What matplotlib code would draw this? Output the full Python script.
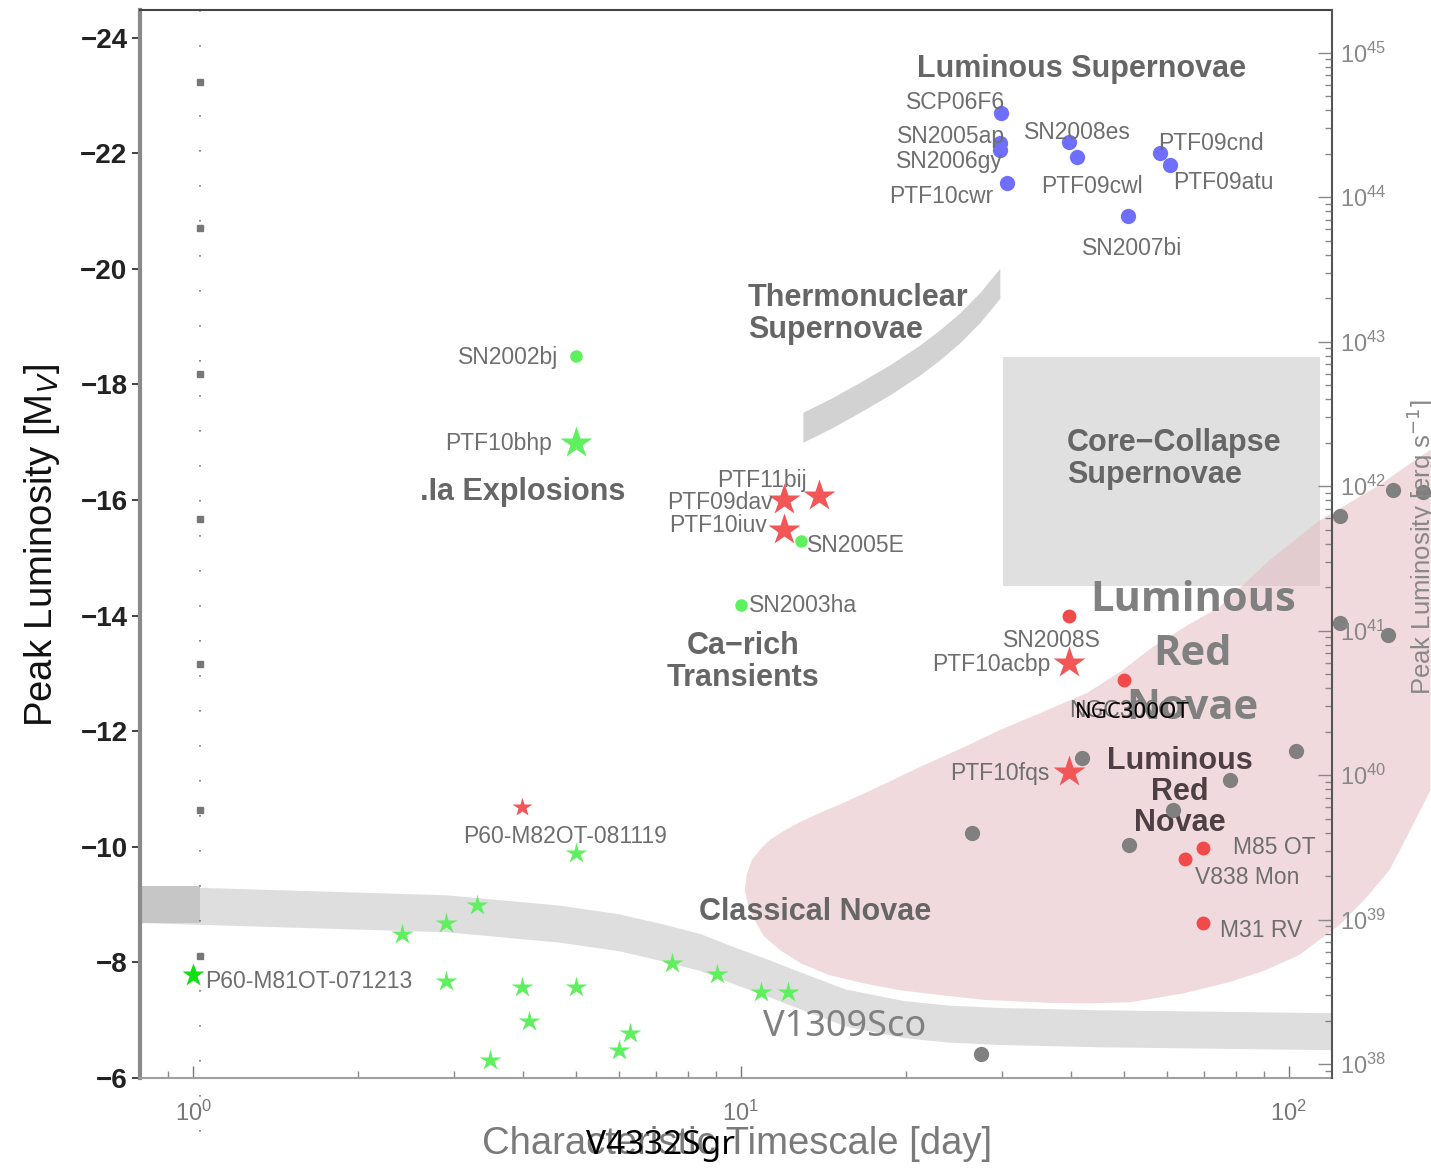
import os
import numpy as np
import matplotlib
matplotlib.use("Agg")
import matplotlib.pyplot as plt
import matplotlib.transforms as mtransforms
from matplotlib import font_manager
from matplotlib.patches import Polygon, Rectangle
from matplotlib.ticker import NullLocator, LogLocator

plt.rcParams['font.family'] = ['Liberation Sans', 'DejaVu Sans']


def bold_family(candidates):
    # first family with a static bold file (variable fonts render as regular)
    for fam in candidates:
        try:
            path = font_manager.findfont(
                font_manager.FontProperties(family=fam, weight='bold'),
                fallback_to_default=False)
        except ValueError:
            continue
        fname = os.path.basename(path).lower()
        if 'bold' in fname and '[' not in fname:
            return fam
    return 'DejaVu Sans'


NOTE_BOLD = bold_family(['Noto Sans', 'Open Sans', 'Roboto', 'Lato'])
NOTE_SIZE = 30 if NOTE_BOLD != 'DejaVu Sans' else 28

LUM_ZERO_MAG = -6.24  # M_V that maps to 1e38 erg/s on the right-hand scale

# luminous supernovae (blue)
sn_names = ['SCP06F6', 'SN2005ap', 'SN2006gy', 'PTF10cwr', 'SN2008es',
            'PTF09cwl', 'PTF09cnd', 'PTF09atu', 'SN2007bi']
sn_days = [29.8, 29.7, 29.7, 30.6, 39.8, 41.0, 58.2, 60.7, 50.8]
sn_mag = [-22.70, -22.18, -22.06, -21.48, -22.19, -21.93, -22.00, -21.80, -20.91]

# green dots (.Ia / Ca-rich)
gdot_names = ['SN2002bj', 'SN2005E', 'SN2003ha']
gdot_days = [5.0, 12.9, 10.0]
gdot_mag = [-18.49, -15.29, -14.18]

bigstar_name = 'PTF10bhp'
bigstar_days = [5.0]
bigstar_mag = [-16.99]

# classical novae (small green stars)
nova_days = [2.41, 2.90, 3.30, 2.90, 3.98, 5.0, 5.0, 4.10, 3.48, 5.99, 6.27,
             7.48, 9.04, 10.9, 12.2]
nova_mag = [-8.49, -8.68, -8.99, -7.68, -7.57, -7.57, -9.89, -6.99, -6.31,
            -6.48, -6.78, -7.99, -7.80, -7.49, -7.49]
m81_name = 'P60-M81OT-071213'
m81_days = [1.0]
m81_mag = [-7.78]

# red stars
rstar_names = ['PTF09dav', 'PTF11bij', 'PTF10iuv', 'PTF10acbp', 'PTF10fqs']
rstar_days = [12.0, 13.9, 12.0, 39.8, 39.8]
rstar_mag = [-16.00, -16.07, -15.48, -13.18, -11.29]
m82_name = 'P60-M82OT-081119'
m82_days = [3.98]
m82_mag = [-10.69]

# red dots
rdot_names = ['SN2008S', 'NGC300OT', 'M85 OT', 'V838 Mon', 'M31 RV']
rdot_days = [39.8, 50.0, 69.7, 64.6, 69.7]
rdot_mag = [-13.99, -12.89, -9.98, -9.79, -8.68]

# luminous red novae sample (grey)
lrn_days = [26.4, 27.4, 41.9, 51.1, 61.4, 78.0, 103, 124, 124, 152, 155, 176]
lrn_mag = [-10.24, -6.42, -11.54, -10.03, -10.64, -11.16, -11.66, -15.72,
           -13.87, -13.66, -16.17, -16.14]

# classical nova track
cn_days = [0.8, 2.90, 4.67, 6.0, 7.24, 8.42, 9.83, 11.3, 12.8, 15.5, 19.8,
           24.0, 29.7, 45.2, 120]
cn_mag = [-9.01, -8.85, -8.67, -8.52, -8.34, -8.18, -7.93, -7.72, -7.52, -7.22,
          -7.02, -6.94, -6.90, -6.86, -6.81]
cn_half = 0.32

# thermonuclear supernova track
tn_days = [12.98, 14.6, 16.5, 18.7, 21.2, 23.1, 25.1, 27.3, 29.7]
tn_mag = [-17.26, -17.50, -17.78, -18.08, -18.42, -18.69, -18.98, -19.33, -19.75]
tn_half = 0.26

# core-collapse box
cc_days = (30.1, 114.0)
cc_mag = (-18.47, -14.51)

# luminous red novae region outline
lrn_zone_days = [10.17, 10.25, 10.47, 10.85, 11.29, 12.0, 12.82, 14.2, 15.81,
                 18.3, 21.2, 25.2, 29.7, 35.5, 42.8, 49.5, 56.5, 65.0, 74.8,
                 83.0, 92.3, 103, 114, 130, 146.6, 163, 181.6, 181.6, 167,
                 152.9, 138, 123.9, 104.7, 90.5, 78.1, 64.0, 51.3, 43.0, 36.6,
                 28.0, 23.3, 19.5, 16.7, 14.5, 12.9, 11.8, 11.0, 10.6, 10.3]
lrn_zone_mag = [-9.25, -9.52, -9.77, -9.96, -10.12, -10.28, -10.43, -10.62,
                -10.81, -11.09, -11.38, -11.70, -12.02, -12.33, -12.66, -13.04,
                -13.46, -13.82, -14.15, -14.55, -14.96, -15.32, -15.65, -15.97,
                -16.26, -16.57, -16.87, -10.98, -10.30, -9.60, -9.10, -8.65,
                -8.13, -7.86, -7.66, -7.46, -7.31, -7.29, -7.30, -7.35, -7.43,
                -7.52, -7.64, -7.78, -7.98, -8.21, -8.46, -8.73, -9.00]

guide_days = 1.03
guide_mag = [-23.23, -20.71, -18.18, -15.67, -13.16, -10.64, -8.11]

# label offsets in pixels
offsets = {
    'SCP06F6': (4, 10, 'right'), 'SN2005ap': (5, 6, 'right'),
    'SN2006gy': (3, -12, 'right'), 'PTF10cwr': (-14, -13, 'right'),
    'SN2008es': (-45, 10, 'left'), 'PTF09cwl': (-35, -29, 'left'),
    'PTF09cnd': (-2, 10, 'left'), 'PTF09atu': (3, -18, 'left'),
    'SN2007bi': (5, -32, 'center'), 'SN2002bj': (-18, -1, 'right'),
    'PTF10bhp': (-24, -1, 'right'), 'PTF11bij': (-12, 16, 'right'),
    'PTF09dav': (-11, -2, 'right'), 'PTF10iuv': (-17, 5, 'right'),
    'SN2005E': (6, -4, 'left'), 'SN2003ha': (8, 0, 'left'),
    'SN2008S': (-18, -24, 'center'), 'PTF10acbp': (-19, -1, 'right'),
    'NGC300OT': (6, -31, 'center'), 'PTF10fqs': (-20, -1, 'right'),
    'P60-M82OT-081119': (43, -30, 'center'), 'P60-M81OT-071213': (12, -6, 'left'),
    'M85 OT': (30, 0, 'left'), 'V838 Mon': (10, -19, 'left'),
    'M31 RV': (17, -7, 'left'),
}

fig = plt.figure(figsize=(14.31, 11.68), dpi=100)
ax = fig.add_axes([140 / 1431, 90 / 1168, 1192 / 1431, 1068 / 1168])
ax.set_xscale('log')
ax.set_xlim(0.8, 120)
ax.set_ylim(-6, -24.48)

GROUP = '#666666'
LABEL = '#6e6e6e'

# shaded regions
cn_lo = np.array(cn_mag) - cn_half
cn_hi = np.array(cn_mag) + cn_half
ax.fill_between(cn_days, cn_lo, cn_hi, color='#dedede', lw=0, zorder=1)
ax.fill_between([cn_days[0], guide_days], [cn_lo[0]] * 2, [cn_hi[0]] * 2,
                color='#c6c6c6', lw=0, zorder=1)
ax.fill_between(tn_days, np.array(tn_mag) - tn_half, np.array(tn_mag) + tn_half,
                color='#d2d2d2', lw=0, zorder=1)
ax.add_patch(Rectangle((cc_days[0], cc_mag[0]), cc_days[1] - cc_days[0],
                       cc_mag[1] - cc_mag[0], facecolor='#e0e0e0', lw=0, zorder=1))
ax.add_patch(Polygon(np.column_stack([lrn_zone_days, lrn_zone_mag]), closed=True,
                     facecolor='#e6bcc4', alpha=0.55, edgecolor='none',
                     clip_on=False, zorder=2))

# dotted guide at 1 day
trans = mtransforms.blended_transform_factory(ax.transData, ax.transAxes)
ax.plot([guide_days, guide_days], [1.0, -0.08], transform=trans, color='#777777',
        lw=1.2, ls=(0, (1, 20)), clip_on=False, zorder=2)
ax.plot([guide_days] * len(guide_mag), guide_mag, 's', color='#777777', ms=4,
        zorder=3)

# markers
ax.plot(sn_days, sn_mag, 'o', color='#6f6fff', ms=11, mec='none', zorder=4)
ax.plot(gdot_days, gdot_mag, 'o', color='#5ef05e', ms=9, mec='none', zorder=4)
ax.plot(bigstar_days, bigstar_mag, '*', color='#5ef05e', ms=24, mec='none', zorder=4)
ax.plot(nova_days, nova_mag, '*', color='#5ef05e', ms=16, mec='none', zorder=4)
ax.plot(m81_days, m81_mag, '*', color='#10e010', ms=17, mec='none', zorder=4)
ax.plot(rstar_days, rstar_mag, '*', color='#f25656', ms=24, mec='none', zorder=4)
ax.plot(m82_days, m82_mag, '*', color='#f25656', ms=15, mec='none', zorder=4)
ax.plot(rdot_days, rdot_mag, 'o', color='#f24a4a', ms=10, mec='none', zorder=4)

# point labels
names = (sn_names + gdot_names + [bigstar_name] + [m81_name] + rstar_names
         + [m82_name] + rdot_names)
days = (sn_days + gdot_days + bigstar_days + m81_days + rstar_days + m82_days
        + rdot_days)
mags = sn_mag + gdot_mag + bigstar_mag + m81_mag + rstar_mag + m82_mag + rdot_mag
for name, d, m in zip(names, days, mags):
    dx, dy, ha = offsets[name]
    ax.annotate(name, (d, m), xytext=(dx, dy), textcoords='offset pixels',
                ha=ha, va='center', fontsize=16.5, color=LABEL, zorder=5)

# class labels
bold = dict(fontsize=22, fontweight='bold', color=GROUP, zorder=5)
ax.text(41.9, -23.46, 'Luminous Supernovae', ha='center', va='center', **bold)
ax.text(10.3, -19.22, 'Thermonuclear\nSupernovae', ha='left', va='center',
        linespacing=1.08, **bold)
ax.text(4.0, -16.14, '.Ia Explosions', ha='center', va='center', **bold)
ax.text(10.08, -13.20, 'Ca\u2212rich\nTransients', ha='center', va='center',
        linespacing=1.1, **bold)
ax.text(39.35, -16.71, 'Core\u2212Collapse\nSupernovae', ha='left', va='center',
        linespacing=1.12, **bold)
ax.text(13.65, -8.87, 'Classical Novae', ha='center', va='center', **bold)
ax.text(63.3, -10.95, 'Luminous\nRed\nNovae', ha='center', va='center',
        fontsize=22, fontweight='bold', color='#4d3f43', linespacing=1.05, zorder=5)

# grey sample and its notes
ax.plot(lrn_days, lrn_mag, 'o', color='#808080', ms=11, mec='none',
        clip_on=False, zorder=6)
ax.text(66.8, -13.33, 'Luminous\nRed\nNovae', ha='center', va='center',
        fontsize=NOTE_SIZE, fontweight='bold', color='#808080', family=NOTE_BOLD,
        linespacing=1.42, zorder=7)
ax.text(51.9, -12.33, 'NGC300OT', ha='center', va='center', fontsize=16,
        color='black', family='Noto Sans', zorder=8)
ax.text(15.5, -6.88, 'V1309Sco', ha='center', va='center', fontsize=26,
        color='#808080', family='Noto Sans', clip_on=False, zorder=8)
ax.text(7.12, -4.84, 'V4332Sgr', ha='center', va='center', fontsize=24,
        color='black', family='Noto Sans', clip_on=False, zorder=8)

# left / bottom axes
ax.set_yticks(np.arange(-24, -5, 2))
ax.yaxis.set_minor_locator(NullLocator())
ax.tick_params(axis='y', direction='out', length=6, width=1.2, pad=3,
               labelsize=20, colors='#222222')
for lbl in ax.get_yticklabels():
    lbl.set_fontweight('bold')
ax.xaxis.set_major_locator(LogLocator(base=10))
ax.tick_params(axis='x', which='major', direction='in', length=9, width=1,
               pad=16, labelsize=17, colors='#777777')
ax.tick_params(axis='x', which='minor', direction='in', length=5, width=1,
               colors='#888888')
ax.tick_params(top=False, right=False, which='both')

ax.set_ylabel('Peak Luminosity [M$_V$]', fontsize=27.5, color='#111111')
ax.yaxis.set_label_coords(-0.0655, 0.499)
ax.set_xlabel('Characteristic Timescale [day]', fontsize=27.5, color='#7a7a7a')
ax.xaxis.set_label_coords(0.5008, -0.045)

ax.spines['left'].set_color('#8a8a8a')
ax.spines['left'].set_linewidth(3)
ax.spines['top'].set_color('#444444')
ax.spines['top'].set_linewidth(1.5)
ax.spines['bottom'].set_color('#a0a0a0')
ax.spines['bottom'].set_linewidth(1.5)
ax.spines['right'].set_visible(False)


# right-hand luminosity scale
def mag_to_lum(m):
    return 10 ** (38 + (LUM_ZERO_MAG - m) / 2.5)


ax2 = ax.twinx()
ax2.set_yscale('log')
lo, hi = ax.get_ylim()
ax2.set_ylim(mag_to_lum(lo), mag_to_lum(hi))
ax2.yaxis.set_major_locator(LogLocator(base=10, numticks=20))
ax2.yaxis.set_minor_locator(LogLocator(base=10, subs=np.arange(2, 10), numticks=20))
ax2.tick_params(axis='y', which='major', direction='in', length=10, width=1,
                pad=6, labelsize=17, colors='#888888')
ax2.tick_params(axis='y', which='minor', direction='in', length=5, width=1,
                colors='#888888')
for side in ('left', 'top', 'bottom'):
    ax2.spines[side].set_visible(False)
ax2.spines['right'].set_color('#555555')
ax2.spines['right'].set_linewidth(1.5)
ax2.set_ylabel('Peak Luminosity [erg s$^{-1}$]', fontsize=18.5, color='#888888')
ax2.yaxis.set_label_coords(1.061, 0.497)

fig.savefig('out.png', dpi=100)
